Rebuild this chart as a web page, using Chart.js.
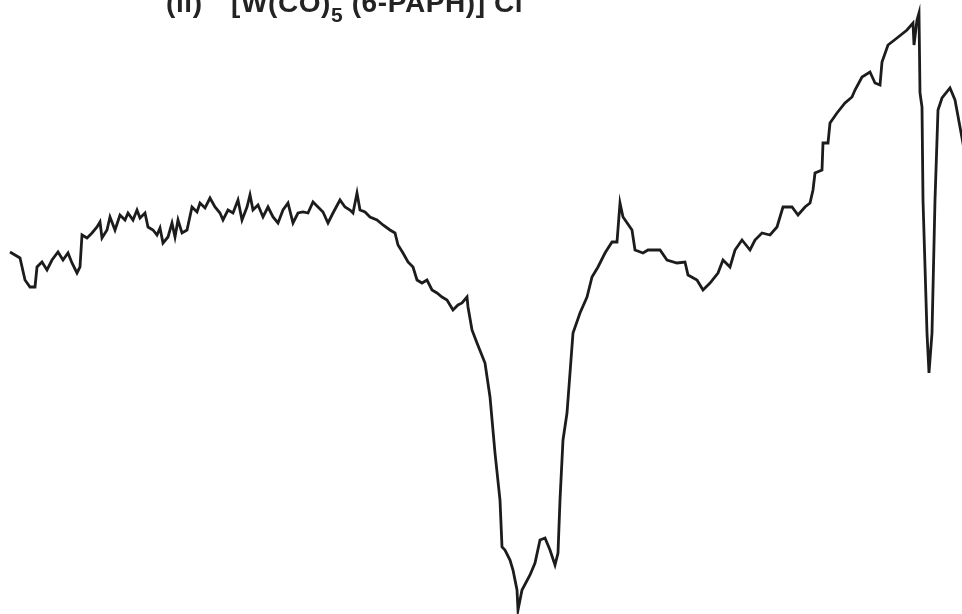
<!DOCTYPE html>
<html>
<head>
<meta charset="utf-8">
<script src="https://cdn.jsdelivr.net/npm/chart.js@4/dist/chart.umd.min.js"></script>
<style>
  body { margin: 0; background: #fff; overflow: hidden; }
  #wrap { position: relative; width: 962px; height: 614px; }
  .label { position: absolute; top: -11px; font-family: "Liberation Sans", Arial, sans-serif; font-weight: bold; font-size: 28px; line-height: 28px; letter-spacing: 0.6px; color: #232323; white-space: pre; }
  .label sub { font-size: 21px; vertical-align: -10px; line-height: 0; }
</style>
</head>
<body>
<div id="wrap">
  <canvas id="spectrum" width="962" height="614"></canvas>
  <div class="label" style="left:166px">(ii)</div>
  <div class="label" style="left:231px">[W(CO)<sub>5</sub> (6-PAPH)] Cl</div>
</div>
<script>
// trace position along the chart paper (left to right)
const position = [
  10, 15, 20, 25, 30, 35, 37, 42, 47, 52, 58, 63, 68, 72, 77, 80, 82, 87, 92, 97,
  100, 102, 107, 110, 115, 120, 125, 128, 133, 137, 140, 145, 148, 153, 157, 160, 163, 168, 172, 175,
  178, 182, 187, 192, 197, 200, 205, 210, 215, 220, 223, 228, 233, 238, 242, 247, 250, 253, 258, 263,
  268, 273, 278, 283, 288, 293, 298, 303, 308, 313, 318, 323, 328, 333, 340, 345, 350, 353, 357, 360,
  365, 370, 377, 383, 390, 395, 398, 403, 408, 413, 417, 422, 427, 432, 437, 442, 447, 453, 458, 462,
  467, 468, 472, 477, 485, 490, 495, 500, 502, 505, 510, 513, 517, 518, 522, 530, 535, 540, 545, 550,
  555, 558, 560, 563, 567, 570, 573, 580, 587, 592, 598, 605, 612, 617, 620, 623, 632, 635, 643, 648,
  660, 667, 677, 685, 688, 697, 703, 710, 718, 723, 730, 735, 742, 750, 755, 762, 770, 777, 783, 792,
  798, 805, 810, 813, 815, 822, 823, 828, 830, 837, 845, 852, 855, 862, 870, 875, 880, 882, 888, 897,
  907, 913, 914, 917, 919, 920, 922, 923, 927, 929, 932, 935, 938, 942, 950, 955, 960, 966
];

// pen signal (height above the bottom of the paper)
const signal = [
  362, 359, 356, 334, 327, 327, 347, 352, 344, 354, 362, 354, 361, 351, 341, 347, 379, 376, 381, 387,
  392, 376, 384, 397, 384, 399, 394, 401, 394, 404, 396, 401, 387, 384, 379, 386, 371, 377, 391, 377,
  394, 381, 384, 407, 402, 411, 406, 416, 407, 401, 394, 404, 401, 414, 394, 407, 419, 404, 409, 397,
  407, 397, 391, 404, 411, 391, 401, 402, 401, 412, 407, 402, 391, 401, 414, 407, 404, 401, 421, 404,
  402, 397, 394, 389, 384, 381, 369, 361, 352, 347, 334, 331, 334, 324, 321, 317, 314, 304, 309, 311,
  317, 307, 284, 271, 251, 217, 161, 114, 67, 64, 54, 44, 24, 4, 24, 39, 51, 74, 76, 64,
  49, 61, 114, 174, 201, 241, 281, 301, 317, 337, 347, 361, 372, 372, 411, 397, 384, 364, 361, 364,
  364, 354, 351, 352, 339, 334, 324, 331, 341, 354, 347, 364, 374, 364, 374, 381, 379, 387, 407, 407,
  399, 407, 411, 424, 441, 444, 471, 471, 491, 501, 511, 517, 524, 537, 542, 531, 529, 552, 569, 576,
  584, 591, 569, 594, 601, 521, 507, 414, 281, 241, 281, 414, 504, 516, 526, 514, 487, 454
];

const points = position.map(function (x, i) {
  return { x: x, y: signal[i] };
});

new Chart(document.getElementById('spectrum'), {
  type: 'line',
  data: {
    datasets: [{
      data: points,
      borderColor: '#1c1c1c',
      borderWidth: 2.8,
      pointRadius: 0,
      tension: 0,
      fill: false
    }]
  },
  options: {
    responsive: false,
    animation: false,
    layout: { padding: 0 },
    plugins: {
      legend: { display: false },
      tooltip: { enabled: false }
    },
    scales: {
      x: { type: 'linear', min: 0, max: 962, display: false },
      y: { min: 0, max: 614, display: false }
    }
  }
});
</script>
</body>
</html>
